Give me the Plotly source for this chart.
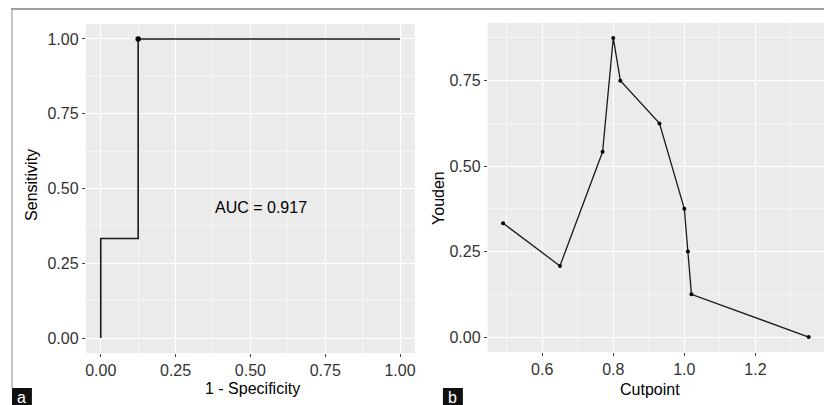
import plotly.graph_objects as go

# ---- data ----
roc_fpr = [0.0, 0.0, 0.125, 1.0]
roc_tpr = [0.0, 0.333, 1.0, 1.0]
opt_fpr = [0.125]
opt_tpr = [1.0]
auc_label = "AUC = 0.917"

cutpoint = [0.49, 0.65, 0.77, 0.80, 0.82, 0.93, 1.00, 1.01, 1.02, 1.35]
youden = [0.333, 0.208, 0.542, 0.875, 0.75, 0.625, 0.375, 0.25, 0.125, 0.0]

left_ticks = [0.0, 0.25, 0.5, 0.75, 1.0]
right_xticks = [0.6, 0.8, 1.0, 1.2]
right_yticks = [0.0, 0.25, 0.5, 0.75]

W, H = 825, 405
FONT = "Liberation Sans, Arial, sans-serif"


def px(x):
    return x / W


def py(y):
    return 1 - y / H


fig = go.Figure()

fig.add_trace(go.Scatter(x=roc_fpr, y=roc_tpr, mode="lines", line_shape="hv",
                         line=dict(color="#1a1a1a", width=1.6),
                         xaxis="x", yaxis="y", showlegend=False))
fig.add_trace(go.Scatter(x=opt_fpr, y=opt_tpr, mode="markers",
                         marker=dict(color="black", size=5.5),
                         xaxis="x", yaxis="y", showlegend=False))
fig.add_trace(go.Scatter(x=cutpoint, y=youden, mode="lines+markers",
                         line=dict(color="#1a1a1a", width=1.3),
                         marker=dict(color="black", size=4),
                         xaxis="x2", yaxis="y2", showlegend=False))

grid_major = "#FFFFFF"
grid_minor = "#F5F5F5"
tickfont = dict(family=FONT, size=16, color="#333333")


def axis(domain, rng, tickvals, fmt, minor_dtick, anchor):
    return dict(domain=domain, range=rng, tickvals=tickvals, tickformat=fmt,
                showgrid=True, gridcolor=grid_major, gridwidth=1.3,
                minor=dict(showgrid=True, gridcolor=grid_minor, gridwidth=0.7,
                           dtick=minor_dtick, tick0=0),
                ticks="outside", ticklen=3, tickcolor="#444444", tickwidth=1,
                tickfont=tickfont, zeroline=False, showline=False,
                anchor=anchor, fixedrange=True)


fig.update_layout(
    width=W, height=H,
    margin=dict(l=0, r=0, t=0, b=0),
    paper_bgcolor="white",
    plot_bgcolor="#EBEBEB",
    font=dict(family=FONT, size=16, color="black"),
    xaxis=axis([px(85), px(415)], [-0.05, 1.05], left_ticks, ".2f", 0.125, "y"),
    yaxis=axis([py(353), py(24)], [-0.05, 1.05], left_ticks, ".2f", 0.125, "x"),
    xaxis2=axis([px(488), 1.0], [0.447, 1.393], right_xticks, ".1f", 0.1, "y2"),
    yaxis2=axis([py(352), py(23)], [-0.04375, 0.91875], right_yticks, ".2f", 0.125, "x2"),
)

# second panel background
fig.add_shape(type="rect", xref="paper", yref="paper",
              x0=px(488), x1=1.0, y0=py(352), y1=py(23),
              fillcolor="#EBEBEB", line=dict(width=0), layer="below")

# AUC label
fig.add_annotation(x=0.537, y=0.436, xref="x", yref="y", text=auc_label,
                   showarrow=False, font=dict(family=FONT, size=16, color="black"))

# axis titles
titles = [
    ("1 - Specificity", 252, 388, 0),
    ("Sensitivity", 30, 185, -90),
    ("Cutpoint", 651, 389, 0),
    ("Youden", 438, 198, -90),
]
for txt, x, y, ang in titles:
    fig.add_annotation(x=px(x), y=py(y), xref="paper", yref="paper", text=txt,
                       showarrow=False, textangle=ang, xanchor="center", yanchor="middle",
                       font=dict(family=FONT, size=16, color="black"))

# frame lines
fig.add_shape(type="line", xref="paper", yref="paper",
              x0=px(10), x1=1.0, y0=py(9), y1=py(9),
              line=dict(color="#808080", width=1.5))
fig.add_shape(type="line", xref="paper", yref="paper",
              x0=px(11), x1=px(11), y0=py(9), y1=py(388),
              line=dict(color="#A0A0A0", width=1.2))

# panel labels
for lab, x0, x1 in [("a", 11, 31), ("b", 443, 463)]:
    fig.add_shape(type="rect", xref="paper", yref="paper",
                  x0=px(x0), x1=px(x1), y0=py(405), y1=py(388),
                  fillcolor="#111111", line=dict(width=0))
    fig.add_annotation(x=px((x0 + x1) / 2), y=py(397), xref="paper", yref="paper",
                       text=lab, showarrow=False, xanchor="center", yanchor="middle",
                       font=dict(family=FONT, size=16, color="white"))

fig.write_html("out.html")
